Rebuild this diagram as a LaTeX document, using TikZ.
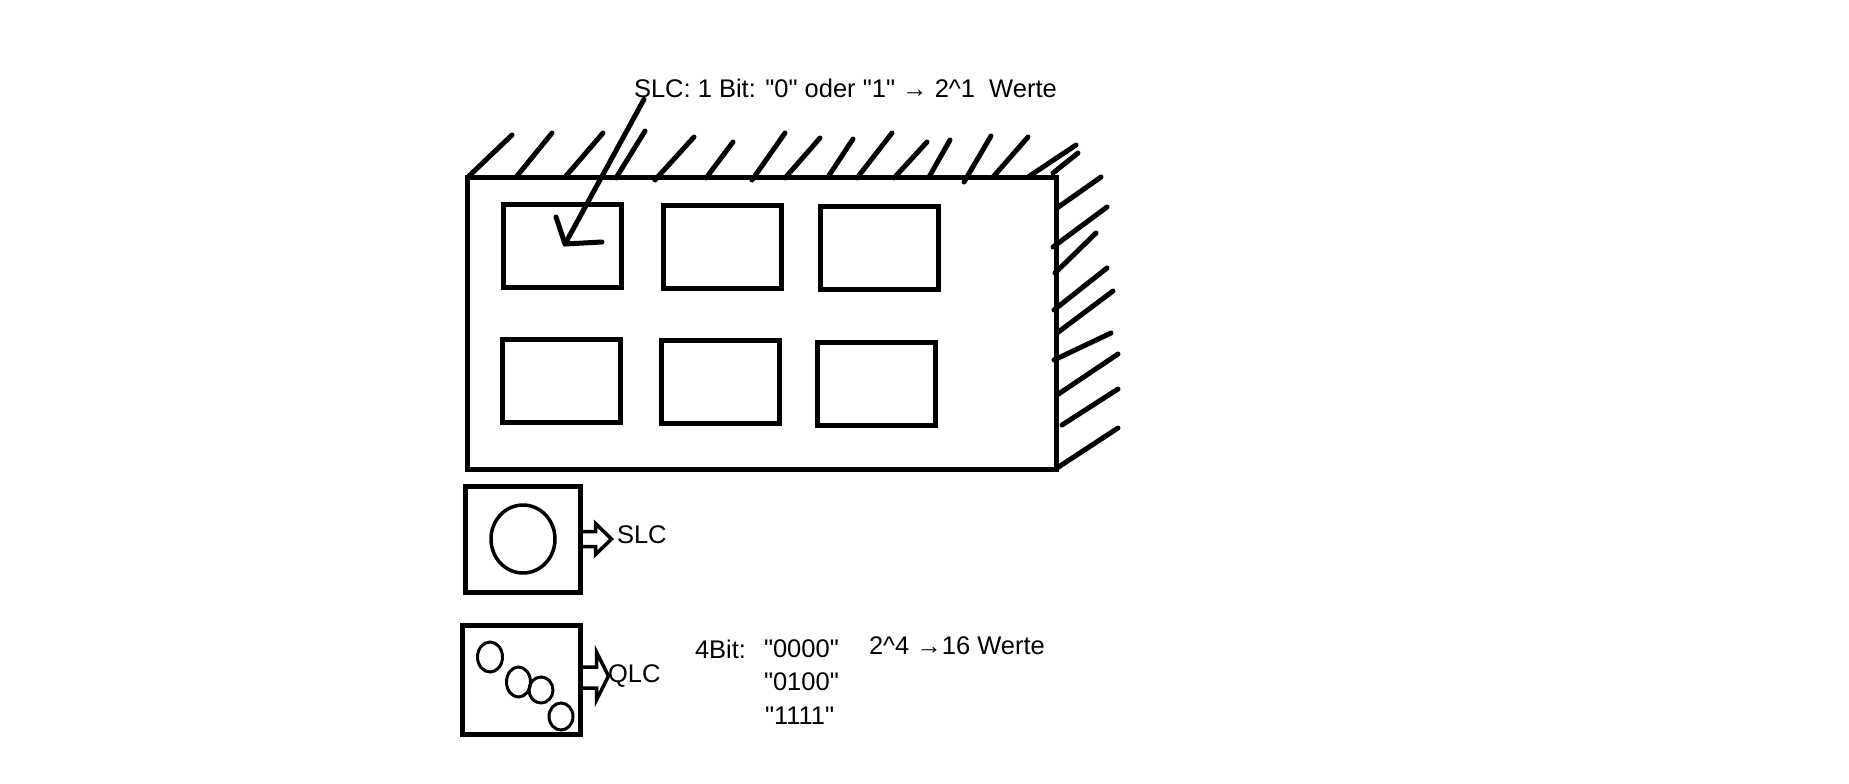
\documentclass[tikz,border=0pt]{standalone}
\usepackage{fontspec}
\setmainfont{Liberation Sans}[Ligatures=TeXOff]
\usetikzlibrary{calc}

\begin{document}
\begin{tikzpicture}[x=1pt,y=-1pt,
  every node/.style={inner sep=0pt,outer sep=0pt},
  pen/.style={line width=5pt,line cap=round,line join=round},
  box/.style={draw,line width=5pt},
  cell/.style={box,minimum width=118pt,minimum height=83pt},
  txt/.style={anchor=west,font=\fontsize{25.5}{30}\selectfont},
  hollow/.style={line width=3.5pt,line join=miter},
  dot/.style={line width=3pt}]
  \useasboundingbox (0,0) rectangle (1849,784);

  % Wand mit Zellen
  \node[box,minimum width=589pt,minimum height=292pt] (wall) at (761.5,323) {};
  \foreach \n/\cx/\cy in {c1/562/246, c2/722/247, c3/879/248, c4/561/381, c5/720/382, c6/876/384}
    \node[cell] (\n) at (\cx,\cy) {};

  % Schraffur oben
  \foreach \xa/\ya/\xb/\yb in {469/176/512/135, 517/176/552/133, 566/176/603/133, 616/178/645/131,
      655/180/694/137, 706/178/733/142, 752/180/785/133, 785/178/820/138, 828/177/853/139,
      857/178/892/133, 894/178/927/142, 929/177/950/140, 964/182/991/136, 993/177/1028/137,
      1028/177/1076/145}
    \draw[pen] (\xa,\ya) -- (\xb,\yb);
  % Schraffur rechts
  \foreach \xa/\ya/\xb/\yb in {1053/173/1078/153, 1057/208/1101/177, 1053/247/1107/207,
      1055/273/1096/233, 1054/310/1107/268, 1057/333/1113/291, 1054/360/1111/333,
      1057/395/1118/354, 1062/425/1118/389, 1057/468/1118/428}
    \draw[pen] (\xa,\ya) -- (\xb,\yb);

  % Beschriftung oben
  \node[txt] (note) at (634,88) {SLC: 1 Bit: "0" oder "1" → 2\textasciicircum1~ Werte};
  \coordinate (tip) at (565,244);
  \draw[pen] ([xshift=10pt,yshift=-2pt]note.south west) -- (tip) -- ++(37,-2);
  \draw[pen] (tip) -- ++(-9,-27);

  % SLC
  \node[box,minimum width=115pt,minimum height=106pt] (slcbox) at (523,539) {};
  \draw[dot,line width=3.5pt] (slcbox.center) ellipse [x radius=32pt,y radius=34pt];
  \node[txt] (slc) at (617,535) {SLC};
  \draw[hollow] ($(slcbox.east)+(0,-7.5)$) -- ++(15,0) -- ++(0,-8) -- ++(16,15.5)
    -- ++(-16,15.5) -- ++(0,-8) -- ++(-15,0);

  % QLC
  \node[box,minimum width=118pt,minimum height=109pt] (qlcbox) at (521.5,680) {};
  \draw[dot] (490,657) ellipse [x radius=12.5pt,y radius=15pt];
  \draw[dot] (518.5,682) ellipse [x radius=12pt,y radius=15pt];
  \draw[dot] (541,690) ellipse [x radius=12pt,y radius=13pt];
  \draw[dot] (561,716.5) ellipse [x radius=12pt,y radius=13.5pt];
  \node[txt] (qlc) at (608,676) {QLC};
  \draw[hollow] ($(qlcbox.east)+(0,-13)$) -- ++(16,0) -- ++(0,-15) -- ++(12,24)
    -- ++(-12,24) -- ++(0,-12) -- ++(-16,0);

  % Bitmuster
  \node[txt] (bits) at (695,649) {4Bit:};
  \node[txt] (code1) at (764,649) {"0000"};
  \node[txt] (code2) at (764,682) {"0100"};
  \node[txt] (code3) at (765,716) {"1111"};
  \node[txt] (values) at (869,646) {2\textasciicircum4 →16 Werte};
\end{tikzpicture}
\end{document}
